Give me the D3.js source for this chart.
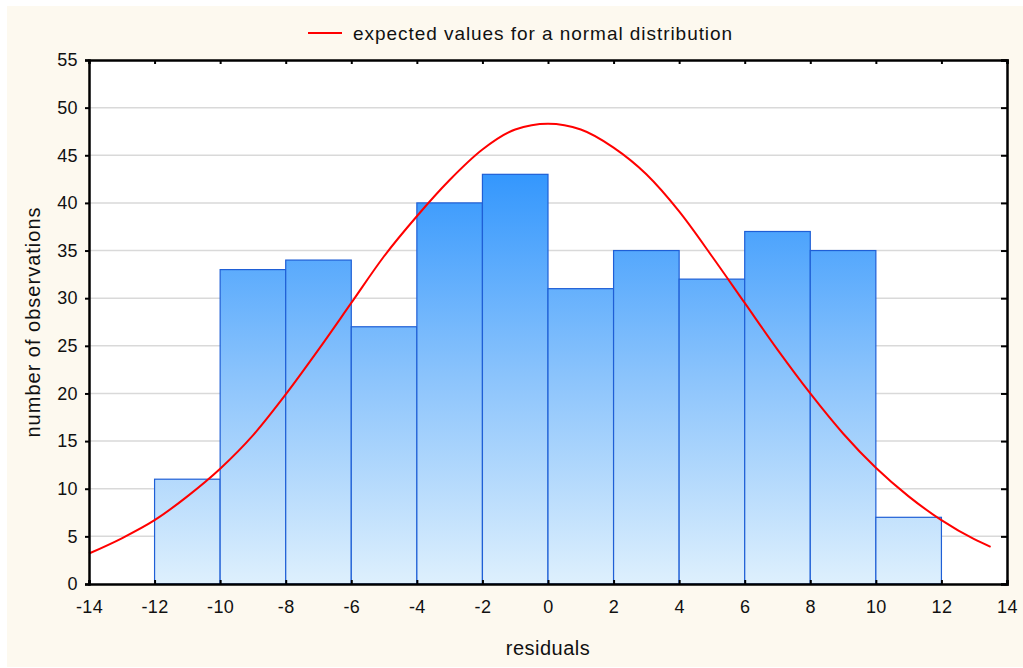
<!DOCTYPE html>
<html>
<head>
<meta charset="utf-8">
<script src="https://cdn.jsdelivr.net/npm/d3@7"></script>
<style>
  body { margin: 0; background: #fff; }
  text { font-family: "Liberation Sans", Arial, sans-serif; fill: #111; }
</style>
</head>
<body>
<div id="chart"></div>
<script>
(function () {
  "use strict";

  // histogram bins (left edge, count)
  const binStarts = [-12, -10, -8, -6, -4, -2, 0, 2, 4, 6, 8, 10];
  const binWidth = 2;
  const counts = [11, 33, 34, 27, 40, 43, 31, 35, 32, 37, 35, 7];

  // expected normal curve
  const curveX = [-14, -13, -12, -11, -10, -9, -8, -7, -6, -5, -4, -3, -2, -1, 0,
    1, 2, 3, 4, 5, 6, 7, 8, 9, 10, 11, 12, 13, 13.5];
  const curveY = [3.2, 4.8, 6.7, 9.2, 12.1, 15.6, 19.9, 24.6, 29.5, 34.4, 38.6, 42.4, 45.6, 47.7, 48.3,
    47.7, 45.8, 43.0, 39.1, 34.4, 29.5, 24.6, 20.0, 15.8, 12.2, 9.2, 6.7, 4.7, 3.9];

  const xTicks = d3.range(-14, 15, 2);
  const yTicks = d3.range(0, 56, 5);
  const legendLabel = "expected values for a normal distribution";

  const W = 1023, H = 668;
  const margin = { top: 60, right: 1023 - 1007, bottom: 668 - 584, left: 89 };
  const width = W - margin.left - margin.right;
  const height = H - margin.top - margin.bottom;

  const svg = d3.select("#chart").append("svg")
    .attr("width", W).attr("height", H);

  // cream panel
  svg.append("rect")
    .attr("x", 7).attr("y", 6).attr("width", W - 7).attr("height", 661)
    .attr("fill", "#fdf9ef");

  const g = svg.append("g").attr("transform", `translate(${margin.left},${margin.top})`);

  const x = d3.scaleLinear().domain([-14, 14]).range([0, width]);
  const y = d3.scaleLinear().domain([0, 55]).range([height, 0]);

  g.append("rect").attr("width", width).attr("height", height).attr("fill", "#fff");

  // gridlines
  g.append("g")
    .selectAll("line")
    .data(yTicks.filter((d) => d > 0 && d < 55))
    .join("line")
    .attr("x1", 0).attr("x2", width)
    .attr("y1", (d) => y(d)).attr("y2", (d) => y(d))
    .attr("stroke", "#d9d9d9").attr("stroke-width", 1.5);

  // gradient shared by all bars
  const grad = svg.append("defs").append("linearGradient")
    .attr("id", "barGrad")
    .attr("gradientUnits", "userSpaceOnUse")
    .attr("x1", 0).attr("x2", 0)
    .attr("y1", y(d3.max(counts))).attr("y2", y(0));
  grad.append("stop").attr("offset", 0).attr("stop-color", "#3497fd");
  grad.append("stop").attr("offset", 0.5).attr("stop-color", "#8cc4fc");
  grad.append("stop").attr("offset", 1).attr("stop-color", "#def0fd");

  g.append("g")
    .selectAll("rect")
    .data(counts)
    .join("rect")
    .attr("x", (d, i) => x(binStarts[i]))
    .attr("y", (d) => y(d))
    .attr("width", (d, i) => x(binStarts[i] + binWidth) - x(binStarts[i]))
    .attr("height", (d) => y(0) - y(d))
    .attr("fill", "url(#barGrad)")
    .attr("stroke", "#1f5fd6")
    .attr("stroke-width", 1.2);

  // normal curve
  const line = d3.line()
    .x((d, i) => x(curveX[i]))
    .y((d) => y(d))
    .curve(d3.curveMonotoneX);

  g.append("path")
    .datum(curveY)
    .attr("d", line)
    .attr("fill", "none")
    .attr("stroke", "#ff0000")
    .attr("stroke-width", 2);

  // axes
  const xAxis = g.append("g")
    .attr("transform", `translate(0,${height})`)
    .call(d3.axisBottom(x).tickValues(xTicks).tickSize(-4).tickPadding(16).tickFormat(d3.format("d")));
  const yAxis = g.append("g")
    .call(d3.axisLeft(y).tickValues(yTicks).tickSize(4).tickPadding(7));
  const topAxis = g.append("g")
    .call(d3.axisTop(x).tickValues(xTicks).tickSize(-4).tickFormat(""));
  const rightAxis = g.append("g")
    .attr("transform", `translate(${width},0)`)
    .call(d3.axisRight(y).tickValues(yTicks).tickSize(-6).tickFormat(""));

  [xAxis, yAxis, topAxis, rightAxis].forEach((a) => {
    a.select(".domain").attr("stroke", "#000").attr("stroke-width", 2.5);
    a.selectAll(".tick line").attr("stroke", "#000").attr("stroke-width", 2);
    a.selectAll(".tick text").attr("font-size", 18).attr("fill", "#111")
      .attr("letter-spacing", 0.4)
      .style("font-family", "'Liberation Sans', Arial, sans-serif");
  });
  xAxis.selectAll(".tick text").text((d) => (d < 0 ? "-" + Math.abs(d) : d));

  // axis titles
  svg.append("text")
    .attr("x", margin.left + width / 2).attr("y", 655)
    .attr("text-anchor", "middle").attr("font-size", 20)
    .attr("letter-spacing", 0.5)
    .text("residuals");
  svg.append("text")
    .attr("transform", `translate(40,${margin.top + height / 2}) rotate(-90)`)
    .attr("text-anchor", "middle").attr("font-size", 20)
    .attr("letter-spacing", 1)
    .text("number of observations");

  // legend
  svg.append("line")
    .attr("x1", 308).attr("x2", 342).attr("y1", 33).attr("y2", 33)
    .attr("stroke", "#ff0000").attr("stroke-width", 2);
  svg.append("text")
    .attr("x", 353).attr("y", 40)
    .attr("font-size", 19)
    .attr("letter-spacing", 0.95)
    .text(legendLabel);
})();
</script>
</body>
</html>
